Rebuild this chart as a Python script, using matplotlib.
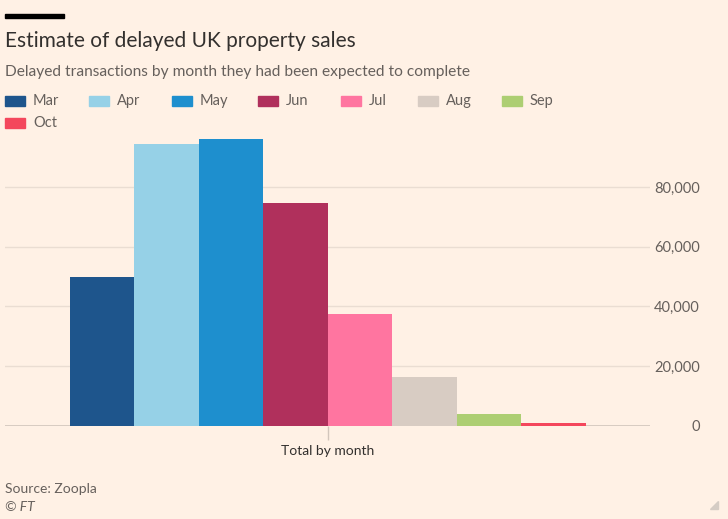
import matplotlib
matplotlib.use("Agg")
import matplotlib.pyplot as plt
from matplotlib.patches import Rectangle, Polygon

months = ["Mar", "Apr", "May", "Jun", "Jul", "Aug", "Sep", "Oct"]
values = [49800, 94500, 96000, 74700, 37300, 16200, 3900, 700]
colors = ["#1E558C", "#96D1E7", "#1E8FCE", "#B0305C", "#FF75A0", "#D8CCC3", "#ADCE72", "#F4475C"]
category = "Total by month"
yticks = [0, 20000, 40000, 60000, 80000]
ytick_labels = ["0", "20,000", "40,000", "60,000", "80,000"]

BG = "#FFF1E5"
plt.rcParams["font.family"] = ["Lato", "DejaVu Sans"]

W, H = 728, 519
fig = plt.figure(figsize=(W / 100, H / 100), dpi=100, facecolor=BG)

def fx(px):
    return px / W

def fy(py):
    return 1 - py / H

ax = fig.add_axes([fx(5), fy(425.5), fx(650) - fx(5), fy(127.5) - fy(425.5)])
ax.set_facecolor(BG)

n = len(months)
bw = 0.1
for i, (m, v, c) in enumerate(zip(months, values, colors)):
    x = (i - (n - 1) / 2) * bw
    ax.bar(x, v, width=bw, color=c, edgecolor="none", zorder=3)

ax.set_xlim(-0.5, 0.5)
ax.set_ylim(0, 100000)
for s in ax.spines.values():
    s.set_visible(False)
ax.yaxis.tick_right()
ax.set_yticks(yticks)
ax.set_yticklabels(ytick_labels)
ax.tick_params(axis="y", length=0, pad=36, labelsize=10.5, labelcolor="#66605C")
for lab in ax.get_yticklabels():
    lab.set_horizontalalignment("right")
ax.grid(axis="y", color="#EADDD2", linewidth=1, zorder=0)
ax.axhline(0, color="#D2C6BC", linewidth=1.2, zorder=2)
ax.set_xticks([0])
ax.set_xticklabels([category])
ax.tick_params(axis="x", length=10, width=1, color="#D2C6BC", pad=4, labelsize=10, labelcolor="#33302E")

# top bar
fig.patches.append(Rectangle((fx(5), fy(18)), fx(64) - fx(5), fy(14) - fy(18),
                             transform=fig.transFigure, color="#000000"))
fig.text(fx(5), fy(41), "Estimate of delayed UK property sales", fontsize=15,
         color="#33302E", va="center", ha="left")
fig.text(fx(5), fy(72), "Delayed transactions by month they had been expected to complete",
         fontsize=11.2, color="#66605C", va="center", ha="left")

# legend
leg_x = [5, 89, 172, 258, 341, 418, 502]
for i, (m, c) in enumerate(zip(months, colors)):
    row = i // 7
    col = i % 7
    x0 = leg_x[col]
    yc = 101 + row * 22
    fig.patches.append(Rectangle((fx(x0), fy(yc + 5)), fx(20), fy(0) - fy(10),
                                 transform=fig.transFigure, color=c))
    fig.text(fx(x0 + 28), fy(yc), m, fontsize=10.5, color="#66605C", va="center", ha="left")

fig.text(fx(5), fy(489), "Source: Zoopla", fontsize=10, color="#66605C", va="center", ha="left")
fig.text(fx(5), fy(507), "© FT", fontsize=10, color="#66605C", va="center", ha="left", style="italic")
fig.patches.append(Polygon([[fx(710), fy(509)], [fx(718), fy(509)], [fx(718), fy(501)]],
                           closed=True, transform=fig.transFigure, color="#D5CCC4"))

fig.savefig("out.png", dpi=100, facecolor=BG)
